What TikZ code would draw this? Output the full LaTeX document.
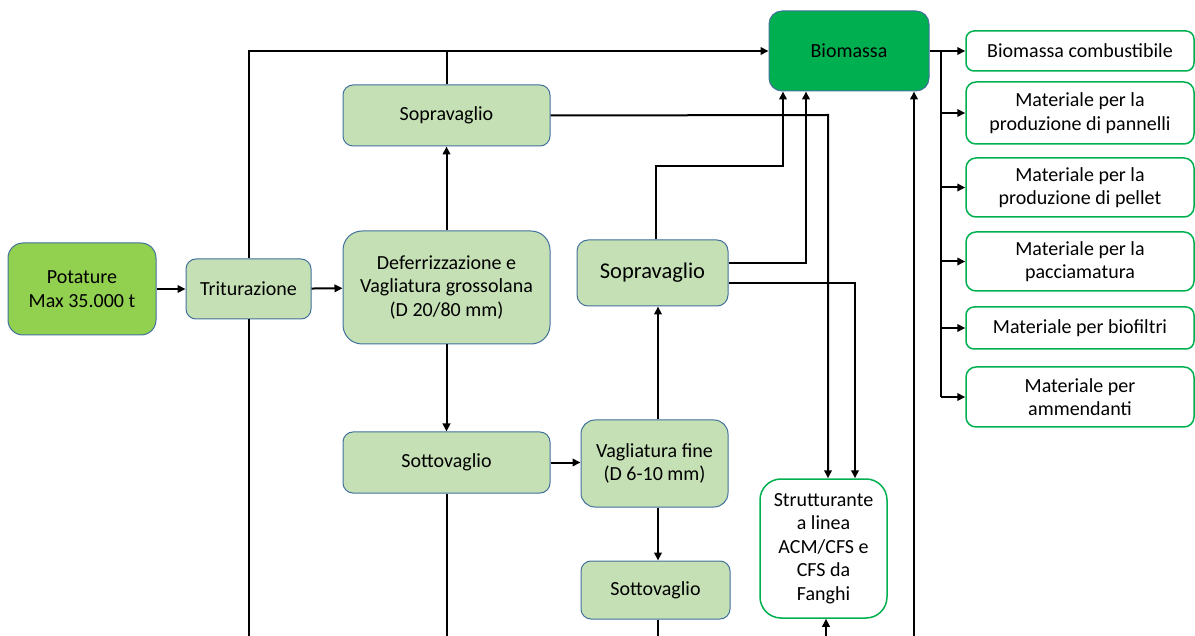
\documentclass[tikz,border=0pt]{standalone}
\usepackage{fontspec}
\setmainfont{Carlito}
\usetikzlibrary{arrows.meta}
\definecolor{stagefill}{HTML}{C5E0B4}
\definecolor{stageline}{HTML}{41719C}
\definecolor{inputfill}{HTML}{92D050}
\definecolor{productfill}{HTML}{00B050}
\begin{document}
\begin{tikzpicture}%
	[	x={(1pt, 0pt)},
	y={(0pt, -1pt)},
	flow/.style={line width=2pt, color=black},
	arr/.style={flow, -{Triangle[length=8pt, width=7.5pt]}},
	box/.style={line width=1pt, align=center, inner sep=0pt, text=black,
		font=\fontsize{20}{23.5}\selectfont},
	stage/.style={box, draw=stageline, fill=stagefill},
	inputbox/.style={box, draw=stageline, fill=inputfill},
	productbox/.style={box, draw=stageline, fill=productfill},
	outbox/.style={box, draw=productfill, line width=1.5pt, fill=white,
		minimum width=228pt}]

\useasboundingbox (0,0) rectangle (1195,636);

\node[inputbox, minimum width=148pt, minimum height=92pt, rounded corners=15pt] (potature) at (82,289) {Potature\\Max 35.000 t};
\node[stage, minimum width=125pt, minimum height=60pt, rounded corners=10pt] (triturazione) at (248.5,289) {Triturazione};
\node[stage, minimum width=207pt, minimum height=113pt, rounded corners=19pt] (deferrizzazione) at (446.5,287.5) {Deferrizzazione e\\Vagliatura grossolana\\(D 20/80 mm)};
\node[stage, minimum width=207pt, minimum height=61pt, rounded corners=10pt] (sopraA) at (446.5,115.5) {Sopravaglio};
\node[stage, minimum width=207pt, minimum height=61pt, rounded corners=10pt] (sottoA) at (446.5,462.5) {Sottovaglio};
\node[stage, minimum width=147pt, minimum height=87pt, rounded corners=14pt] (vagliaturafine) at (654.5,463.5) {Vagliatura fine\\(D 6-10 mm)};
\node[stage, minimum width=151pt, minimum height=66pt, rounded corners=11pt, font=\fontsize{22.5}{26}\selectfont] (sopraB) at (652.5,273) {Sopravaglio};
\node[stage, minimum width=149pt, minimum height=58pt, rounded corners=10pt] (sottoB) at (655.5,590) {Sottovaglio};
\node[productbox, minimum width=160pt, minimum height=80pt, rounded corners=13pt] (biomassa) at (849,51) {Biomassa};
\node[outbox, minimum width=127pt, minimum height=139pt, rounded corners=21pt] (strutturante) at (823.5,548.5) {Strutturante\\a linea\\ACM/CFS e\\CFS da\\Fanghi};

\node[outbox, minimum height=40pt, rounded corners=8pt] (combustibile) at (1080,51) {Biomassa combustibile};
\node[outbox, minimum height=62pt, rounded corners=10pt] (pannelli) at (1080,113) {Materiale per la\\produzione di pannelli};
\node[outbox, minimum height=59pt, rounded corners=10pt] (pellet) at (1080,187.5) {Materiale per la\\produzione di pellet};
\node[outbox, minimum height=59pt, rounded corners=10pt] (pacciamatura) at (1080,261.5) {Materiale per la\\pacciamatura};
\node[outbox, minimum height=42pt, rounded corners=8pt] (biofiltri) at (1080,328) {Materiale per biofiltri};
\node[outbox, minimum height=60pt, rounded corners=10pt] (ammendanti) at (1080,397) {Materiale per\\ammendanti};

\coordinate (split) at (941,51);
\coordinate (bendA) at (828,115);
\coordinate (bendB) at (783,166);
\coordinate (bendC) at (806,263);
\coordinate (bendD) at (855,283);
\coordinate (endTrit) at (248.5,636);
\coordinate (endSottoA) at (446.5,636);
\coordinate (endSottoB) at (658,636);
\coordinate (inStrutt) at (826,636);
\coordinate (inBio) at (914,636);

\draw[arr] (potature) -- (triturazione);
\draw[arr] (triturazione) -- (deferrizzazione);
\draw[arr] (triturazione.north) |- (biomassa.west);
\draw[flow] (sopraA.north) -- (sopraA.north |- biomassa.west);
\draw[arr] (deferrizzazione.north) -- (sopraA.south);
\draw[arr] (deferrizzazione.south) -- (sottoA.north);
\draw[arr] (sottoA.east) -- (sottoA.east -| vagliaturafine.west);
\draw[flow] (triturazione.south) -- (endTrit);
\draw[flow] (sottoA.south) -- (endSottoA);
\draw[arr] (vagliaturafine.north -| endSottoB) -- (sopraB.south -| endSottoB);
\draw[arr] (vagliaturafine.south -| endSottoB) -- (sottoB.north -| endSottoB);
\draw[flow] (sottoB.south -| endSottoB) -- (endSottoB);

\draw[arr] (sopraA.east) -- (bendA) -- (bendA |- strutturante.north);
\draw[arr] (sopraB.north -| 656,0) |- (bendB) -- (bendB |- biomassa.south);
\draw[arr] (sopraB.east |- bendC) -- (bendC) -- (bendC |- biomassa.south);
\draw[arr] (sopraB.east |- bendD) -- (bendD) -- (bendD |- strutturante.north);
\draw[arr] (inStrutt) -- (inStrutt |- strutturante.south);
\draw[arr] (inBio) -- (inBio |- biomassa.south);

\draw[arr] (biomassa.east) -- (combustibile.west);
\draw[flow] (split) -- (split |- ammendanti.west);
\draw[arr] (split |- pannelli.west) -- (pannelli.west);
\draw[arr] (split |- pellet.west) -- (pellet.west);
\draw[arr] (split |- pacciamatura.west) -- (pacciamatura.west);
\draw[arr] (split |- biofiltri.west) -- (biofiltri.west);
\draw[arr] (split |- ammendanti.west) -- (ammendanti.west);
\end{tikzpicture}
\end{document}
